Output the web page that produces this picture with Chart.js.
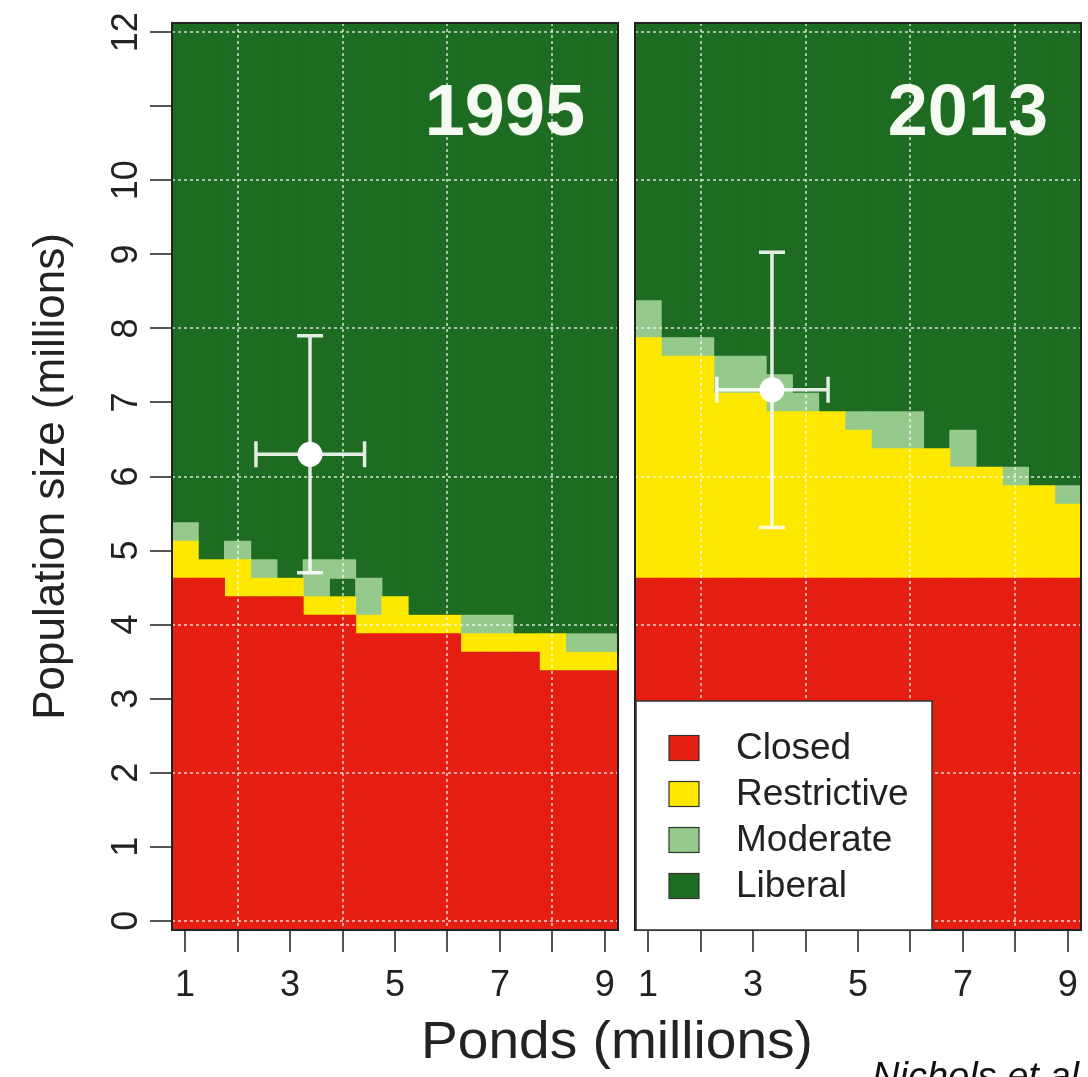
<!DOCTYPE html>
<html>
<head>
<meta charset="utf-8">
<title>Regulation regimes by ponds and population</title>
<script src="https://cdn.jsdelivr.net/npm/chart.js@4.4.1/dist/chart.umd.min.js"></script>
<style>
  html, body { margin: 0; padding: 0; background: #fff; }
  #page { position: relative; width: 1088px; height: 1077px; overflow: hidden; background: #fff;
          font-family: 'Liberation Sans', Arial, Helvetica, sans-serif; }
  #panel1995 { position: absolute; left: 0; top: 0; }
  #panel2013 { position: absolute; left: 627px; top: 0; }
  #xtitle { position: absolute; left: 317px; top: 1015px; width: 600px; text-align: center;
            font-size: 51px; line-height: 51px; color: #222; white-space: nowrap;
            transform: scaleX(1.08); transform-origin: 50% 50%; }
  #credit { position: absolute; left: 872px; top: 1057px; font-size: 38px; line-height: 38px;
            font-style: italic; white-space: nowrap; color: #111; }
</style>
</head>
<body>
<div id="page">
  <canvas id="panel1995" width="628" height="1077"></canvas>
  <canvas id="panel2013" width="461" height="1077"></canvas>
  <div id="xtitle">Ponds (millions)</div>
  <div id="credit">Nichols et al.</div>
</div>
<script>
// Pond counts (millions) at the centre of each grid column
const ponds = [1, 1.5, 2, 2.5, 3, 3.5, 4, 4.5, 5, 5.5, 6, 6.5, 7, 7.5, 8, 8.5, 9];

// Axis ticks
const pondTicks = [1, 2, 3, 4, 5, 6, 7, 8, 9];
const popTicks = [0, 1, 2, 3, 4, 5, 6, 7, 8, 9, 10, 11, 12];

const years = ['1995', '2013'];
const regulations = ['Closed', 'Restrictive', 'Moderate', 'Liberal'];
const regulationColors = ['#E41E10', '#FFE800', '#95CA8C', '#1E6C21'];

// 1995: upper edge (population, millions) of the closed and restrictive bands per column
const closedTop1995 = [4.625, 4.625, 4.375, 4.375, 4.375, 4.125, 4.125, 3.875, 3.875, 3.875, 3.875, 3.625, 3.625, 3.625, 3.375, 3.375, 3.375];
const restrictiveTop1995 = [5.125, 4.875, 4.875, 4.625, 4.625, 4.375, 4.375, 4.125, 4.375, 4.125, 4.125, 3.875, 3.875, 3.875, 3.875, 3.625, 3.625];
// 1995: moderate band [from, to] per column (null where there is none)
const moderateBand1995 = [[5.125, 5.375], null, [4.875, 5.125], [4.625, 4.875], null, [4.375, 4.875], [4.625, 4.875],
  [4.125, 4.625], null, null, null, [3.875, 4.125], [3.875, 4.125], null, null, [3.625, 3.875], [3.625, 3.875]];

// 2013
const closedTop2013 = [4.625, 4.625, 4.625, 4.625, 4.625, 4.625, 4.625, 4.625, 4.625, 4.625, 4.625, 4.625, 4.625, 4.625, 4.625, 4.625, 4.625];
const restrictiveTop2013 = [7.875, 7.625, 7.625, 7.125, 7.125, 6.875, 6.875, 6.875, 6.625, 6.375, 6.375, 6.375, 6.125, 6.125, 5.875, 5.875, 5.625];
const moderateBand2013 = [[7.875, 8.375], [7.625, 7.875], [7.625, 7.875], [7.125, 7.625], [7.125, 7.625], [6.875, 7.375], [6.875, 7.125],
  null, [6.625, 6.875], [6.375, 6.875], [6.375, 6.875], null, [6.125, 6.625], null, [5.875, 6.125], null, [5.625, 5.875]];

// Survey estimates with their intervals (index 0 = 1995, 1 = 2013)
const pondEstimate = [3.38, 3.36];
const pondLow = [2.35, 2.31];
const pondHigh = [4.42, 4.43];
const popEstimate = [6.30, 7.17];
const popLow = [4.70, 5.31];
const popHigh = [7.90, 9.03];

// Axis extents: grid cells are 0.5 ponds wide and 0.25 population high
const POND_MIN = 0.75, POND_MAX = 9.25;
const POP_MIN = -0.125, POP_MAX = 12.125;

const FONT = "'Liberation Sans', Arial, Helvetica, sans-serif";
const GRID_COLOR = 'rgba(255,255,255,0.6)';
const TEXT_COLOR = '#222';

Chart.defaults.font.family = FONT;
Chart.defaults.color = TEXT_COLOR;

function band(lo, hi) {
  return ponds.map((p, i) => {
    const a = Array.isArray(lo) ? lo[i] : lo;
    const b = Array.isArray(hi) ? hi[i] : hi;
    return { x: p, y: (a == null || b == null) ? null : [a, b] };
  });
}

function barSet(label, color, data) {
  return {
    type: 'bar', label, data,
    backgroundColor: color, borderWidth: 0,
    grouped: false, barPercentage: 1, categoryPercentage: 1, inflateAmount: 0.5
  };
}

function evenGrid(c) {
  return (c.tick && Math.round(c.tick.value) % 2 === 0) ? GRID_COLOR : 'rgba(0,0,0,0)';
}

// Frame, year tag and error bars for one panel
function panelPlugin(k, withLegend) {
  return {
    id: 'panel' + k,
    afterDatasetsDraw(chart) {
      const { ctx } = chart;
      const xs = chart.scales.x, ys = chart.scales.y;
      const cx = xs.getPixelForValue(pondEstimate[k]);
      const cy = ys.getPixelForValue(popEstimate[k]);
      const x0 = xs.getPixelForValue(pondLow[k]), x1 = xs.getPixelForValue(pondHigh[k]);
      const y0 = ys.getPixelForValue(popLow[k]), y1 = ys.getPixelForValue(popHigh[k]);
      const cap = 13;
      ctx.save();
      ctx.strokeStyle = 'rgba(255,255,255,0.88)';
      ctx.lineWidth = 3.5;
      ctx.beginPath();
      ctx.moveTo(cx, y0); ctx.lineTo(cx, y1);
      ctx.moveTo(cx - cap, y0); ctx.lineTo(cx + cap, y0);
      ctx.moveTo(cx - cap, y1); ctx.lineTo(cx + cap, y1);
      ctx.moveTo(x0, cy); ctx.lineTo(x1, cy);
      ctx.moveTo(x0, cy - cap); ctx.lineTo(x0, cy + cap);
      ctx.moveTo(x1, cy - cap); ctx.lineTo(x1, cy + cap);
      ctx.stroke();
      ctx.restore();
    },
    afterDraw(chart) {
      const { ctx, chartArea: ca } = chart;
      ctx.save();
      // year tag
      ctx.fillStyle = '#F5FAF2';
      ctx.font = 'bold 72px ' + FONT;
      ctx.textAlign = 'right';
      ctx.textBaseline = 'alphabetic';
      ctx.fillText(years[k], ca.right - 33, ca.top + 112);
      // panel frame
      ctx.strokeStyle = '#222';
      ctx.lineWidth = 2;
      ctx.strokeRect(ca.left, ca.top, ca.right - ca.left, ca.bottom - ca.top);
      if (withLegend) {
        const bx = ca.left + 1, bw = 296, bh = 229, by = ca.bottom - bh;
        ctx.fillStyle = '#fff';
        ctx.fillRect(bx, by, bw, bh);
        ctx.strokeStyle = '#333';
        ctx.lineWidth = 1.5;
        ctx.strokeRect(bx, by, bw, bh);
        ctx.font = '37px ' + FONT;
        ctx.textAlign = 'left';
        ctx.textBaseline = 'middle';
        regulations.forEach((name, i) => {
          const ry = by + 47 + i * 46;
          ctx.fillStyle = regulationColors[i];
          ctx.fillRect(bx + 33, ry - 12.5, 30, 25);
          ctx.strokeStyle = '#333';
          ctx.lineWidth = 1.2;
          ctx.strokeRect(bx + 33, ry - 12.5, 30, 25);
          ctx.fillStyle = TEXT_COLOR;
          ctx.fillText(name, bx + 100, ry + 1);
        });
      }
      ctx.restore();
    }
  };
}

function makePanel(canvasId, k, closedTop, restrictiveTop, moderateBand, showAxis, padding) {
  const datasets = [
    barSet(regulations[0], regulationColors[0], band(POP_MIN, closedTop)),
    barSet(regulations[1], regulationColors[1], band(closedTop, restrictiveTop)),
    barSet(regulations[2], regulationColors[2], ponds.map((p, i) => ({ x: p, y: moderateBand[i] }))),
    barSet(regulations[3], regulationColors[3], band(restrictiveTop, POP_MAX)),
    {
      type: 'scatter', label: 'Estimate ' + years[k], order: -1,
      data: [{ x: pondEstimate[k], y: popEstimate[k] }],
      pointRadius: 12.5, pointBackgroundColor: '#FFFFFF', pointBorderWidth: 0
    }
  ];
  const gridCommon = {
    z: 1, lineWidth: 2, color: evenGrid,
    tickLength: 22, tickWidth: 2, tickColor: '#555', tickBorderDash: [], offset: false
  };
  return new Chart(document.getElementById(canvasId), {
    type: 'bar',
    data: { datasets },
    options: {
      responsive: false, animation: false, events: [],
      layout: { padding, autoPadding: false },
      plugins: { legend: { display: false }, tooltip: { enabled: false } },
      scales: {
        x: {
          type: 'linear', min: POND_MIN, max: POND_MAX, offset: false,
          afterBuildTicks: s => { s.ticks = pondTicks.map(v => ({ value: v })); },
          afterFit: s => { s.height = 147; s.paddingLeft = 0; s.paddingRight = 0; },
          grid: gridCommon,
          border: { display: false, dash: [3, 3] },
          ticks: {
            autoSkip: false, maxRotation: 0, minRotation: 0, padding: 16,
            font: { size: 36, lineHeight: 1 }, color: TEXT_COLOR,
            callback: v => (v % 2 === 1 ? String(v) : '')
          }
        },
        y: {
          type: 'linear', min: POP_MIN, max: POP_MAX,
          afterBuildTicks: s => { s.ticks = popTicks.map(v => ({ value: v })); },
          afterFit: s => { s.width = showAxis ? 172 : 0; s.paddingTop = 0; s.paddingBottom = 0; },
          grid: Object.assign({}, gridCommon, { drawTicks: showAxis }),
          border: { display: false, dash: [3, 3] },
          ticks: {
            display: showAxis, autoSkip: false, minRotation: 90, maxRotation: 90,
            crossAlign: 'center', padding: 3,
            font: { size: 36, lineHeight: 1 }, color: TEXT_COLOR,
            callback: v => (v === 11 ? '' : String(v))
          },
          title: {
            display: showAxis, text: 'Population size (millions)', color: TEXT_COLOR,
            font: { size: 44, lineHeight: 1 }, padding: { top: 30, bottom: 0 }
          }
        }
      }
    },
    plugins: [panelPlugin(k, !showAxis)]
  });
}

makePanel('panel1995', 0, closedTop1995, restrictiveTop1995, moderateBand1995, true,
  { left: 0, right: 10, top: 23, bottom: 0 });
makePanel('panel2013', 1, closedTop2013, restrictiveTop2013, moderateBand2013, false,
  { left: 8, right: 7, top: 23, bottom: 0 });
</script>
</body>
</html>
